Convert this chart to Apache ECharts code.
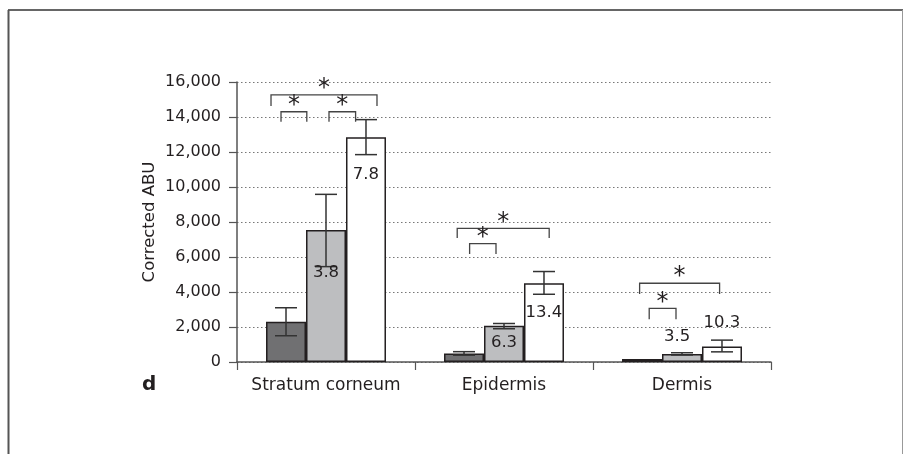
<!DOCTYPE html>
<html>
<head>
<meta charset="utf-8">
<title>Corrected ABU by skin layer</title>
<script src="https://cdn.jsdelivr.net/npm/echarts@6/dist/echarts.min.js"></script>
<style>
  html, body { margin: 0; padding: 0; background: #fff; }
  #chart { width: 904px; height: 454px; }
</style>
</head>
<body>
<div id="chart"></div>
<script>
// Skin layers on the category axis
const categories = ['Stratum corneum', 'Epidermis', 'Dermis'];

// Mean corrected ABU for the three formulations (dark, grey, white bars)
const meanDark  = [2300, 480, 170];
const meanGrey  = [7550, 2070, 460];
const meanWhite = [12850, 4500, 880];

// Error bar ranges (lower, upper)
const errDarkLo  = [1500, 390, null];
const errDarkHi  = [3100, 590, null];
const errGreyLo  = [5450, 1900, 400];
const errGreyHi  = [9580, 2200, 530];
const errWhiteLo = [11850, 3870, 580];
const errWhiteHi = [13850, 5170, 1250];

// Fold-change labels written on the grey and white bars
const foldGrey  = ['3.8', '6.3', '3.5'];
const foldWhite = ['7.8', '13.4', '10.3'];

// Y axis ticks
const yMin = 0, yMax = 16000, yStep = 2000;

// Where the fold labels sit (axis units)
const foldGreyAt  = [5100, 1090, 1430];
const foldWhiteAt = [10700, 2800, 2230];
const foldGreyShift = [0, 0, -0.12];   // in bar widths

// Significance brackets: category, left/right ends in bar widths from the
// category centre, bar top and leg bottom in axis units
const brackets = [
  [0, -1.375, 1.275, 15260, 14630],
  [0, -1.125, -0.48, 14300, 13730],
  [0,  0.075,  0.74, 14300, 13730],
  [1, -1.17,   1.13,  7640,  7090],
  [1, -0.86,  -0.2,   6760,  6170],
  [2, -1.06,   0.94,  4500,  3890],
  [2, -0.82,  -0.15,  3070,  2440]
];

const FONT = 'DejaVu Sans';
const INK = '#231f20';
const GAP = 0.326;

function barWidthPx(api) {
  return api.size([1, 0])[0] * (1 - GAP) / 3;
}

function errorSeries(lo, hi, slot) {
  return {
    type: 'custom',
    z: 5,
    data: categories.map((c, i) => [i, lo[i], hi[i]]),
    renderItem: function (params, api) {
      const i = api.value(0);
      const l = lo[i], h = hi[i];
      if (l == null || h == null) return null;
      const bw = barWidthPx(api);
      const c = api.coord([i, 0])[0] + slot * bw;
      const yl = api.coord([i, l])[1];
      const yh = api.coord([i, h])[1];
      const cap = 11;
      const st = { stroke: '#333', lineWidth: 1.5, fill: null };
      return {
        type: 'group',
        children: [
          { type: 'line', shape: { x1: c, y1: yl, x2: c, y2: yh }, style: st },
          { type: 'line', shape: { x1: c - cap, y1: yl, x2: c + cap, y2: yl }, style: st },
          { type: 'line', shape: { x1: c - cap, y1: yh, x2: c + cap, y2: yh }, style: st }
        ]
      };
    }
  };
}

function foldSeries(labels, at, slot, shift) {
  return {
    type: 'custom',
    z: 6,
    data: categories.map((c, i) => [i, at[i]]),
    renderItem: function (params, api) {
      const i = api.value(0);
      const bw = barWidthPx(api);
      const p = api.coord([i, at[i]]);
      const x = p[0] + (slot + (shift ? shift[i] : 0)) * bw;
      return {
        type: 'text',
        style: {
          text: labels[i], x: x, y: p[1],
          fontFamily: FONT, fontSize: 16.5, fill: INK,
          align: 'center', verticalAlign: 'middle'
        }
      };
    }
  };
}

const bracketSeries = {
  type: 'custom',
  z: 7,
  data: brackets.map(b => [b[0], b[3], b[4]]),
  renderItem: function (params, api) {
    const b = brackets[params.dataIndex];
    const bw = barWidthPx(api);
    const cx = api.coord([b[0], 0])[0];
    const x1 = cx + b[1] * bw, x2 = cx + b[2] * bw;
    const yt = api.coord([b[0], b[3]])[1];
    const yb = api.coord([b[0], b[4]])[1];
    return {
      type: 'group',
      children: [
        {
          type: 'polyline',
          shape: { points: [[x1, yb], [x1, yt], [x2, yt], [x2, yb]] },
          style: { stroke: '#444', lineWidth: 1.3, fill: null }
        },
        {
          type: 'text',
          style: {
            text: '*', x: (x1 + x2) / 2, y: yt - 6,
            fontFamily: FONT, fontSize: 24, fill: INK,
            align: 'center', verticalAlign: 'middle'
          }
        }
      ]
    };
  }
};

function barSeries(name, values, color) {
  return {
    name: name,
    type: 'bar',
    data: values,
    barGap: '0%',
    barCategoryGap: (GAP * 100) + '%',
    itemStyle: { color: color, borderColor: INK, borderWidth: 1.5 },
    emphasis: { disabled: true },
    z: 3
  };
}

const chart = echarts.init(document.getElementById('chart'), null, { renderer: 'canvas' });

chart.setOption({
  animation: false,
  backgroundColor: '#fff',
  grid: { left: 237, right: 133, top: 82, bottom: 92 },
  xAxis: {
    type: 'category',
    data: categories,
    axisLine: { lineStyle: { color: '#555', width: 1.5 } },
    axisTick: { show: true, interval: 0, length: 8, lineStyle: { color: '#555', width: 1.2 } },
    axisLabel: { interval: 0, fontFamily: FONT, fontSize: 17, color: INK, margin: 15 }
  },
  yAxis: {
    type: 'value',
    min: yMin, max: yMax, interval: yStep,
    name: 'Corrected ABU',
    nameLocation: 'middle',
    nameGap: 79,
    nameMoveOverlap: false,
    nameTextStyle: { fontFamily: FONT, fontSize: 16.5, color: INK },
    axisLine: { show: true, lineStyle: { color: '#555', width: 1.5 } },
    axisTick: { show: true, length: 8, lineStyle: { color: '#555', width: 1.2 } },
    axisLabel: {
      fontFamily: FONT, fontSize: 16, color: INK, margin: 16,
      formatter: v => v.toLocaleString('en-US')
    },
    splitLine: { show: true, lineStyle: { color: '#777', type: [1.5, 2.5], width: 1 } }
  },
  series: [
    barSeries('Dark', meanDark, '#707072'),
    barSeries('Grey', meanGrey, '#bdbec0'),
    barSeries('White', meanWhite, '#ffffff'),
    errorSeries(errDarkLo, errDarkHi, -1),
    errorSeries(errGreyLo, errGreyHi, 0),
    errorSeries(errWhiteLo, errWhiteHi, 1),
    foldSeries(foldGrey, foldGreyAt, 0, foldGreyShift),
    foldSeries(foldWhite, foldWhiteAt, 1, null),
    bracketSeries
  ],
  graphic: [
    { type: 'line', shape: { x1: 8, y1: 10, x2: 903, y2: 10 }, style: { stroke: '#333', lineWidth: 1.5 } },
    { type: 'line', shape: { x1: 8.5, y1: 10, x2: 8.5, y2: 454 }, style: { stroke: '#555', lineWidth: 2 } },
    { type: 'line', shape: { x1: 902.5, y1: 10, x2: 902.5, y2: 454 }, style: { stroke: '#999', lineWidth: 1 } },
    {
      type: 'text', left: 142, top: 375,
      style: { text: 'd', fontFamily: FONT, fontSize: 20, fontWeight: 'bold', fill: INK }
    }
  ]
});
</script>
</body>
</html>
